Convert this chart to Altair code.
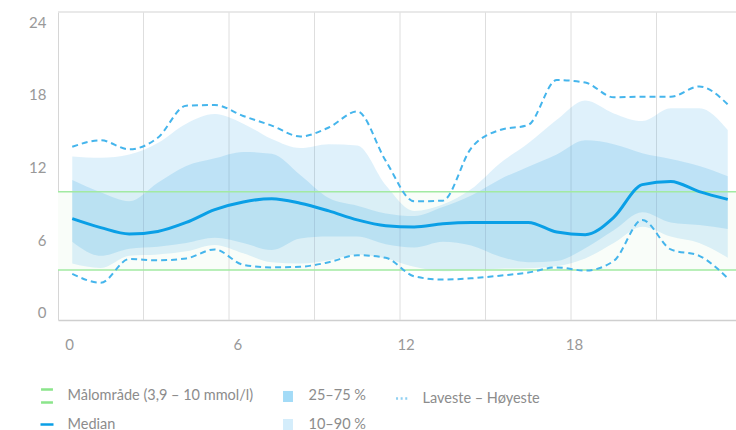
import altair as alt
import pandas as pd

# ---- data ----
hours = [0.5 + i for i in range(24)]
median = [7.9, 7.2, 6.7, 6.9, 7.6, 8.6, 9.2, 9.45, 9.1, 8.5, 7.8, 7.35,
          7.25, 7.5, 7.6, 7.6, 7.6, 6.85, 6.65, 8.0, 10.55, 10.8, 10.0, 9.4]
p25 = [6.1, 5.0, 5.55, 5.7, 6.0, 6.4, 6.0, 5.45, 6.35, 6.5, 6.5, 5.9,
       5.65, 6.1, 5.8, 4.95, 4.5, 4.6, 5.6, 7.0, 8.4, 7.6, 7.4, 7.1]
p75 = [10.9, 9.95, 9.25, 10.7, 12.0, 12.6, 13.1, 12.95, 11.3, 9.5, 8.9, 8.3,
       8.1, 8.8, 9.7, 10.95, 11.95, 12.9, 14.0, 13.7, 13.0, 12.55, 12.0, 11.2]
p10 = [4.4, 4.05, 5.0, 5.1, 5.35, 5.85, 5.2, 4.5, 4.4, 4.65, 5.1, 4.8,
       4.15, 3.8, 3.9, 4.0, 4.03, 4.2, 4.8, 6.0, 7.27, 6.5, 6.0, 4.85]
p90 = [12.75, 12.65, 12.9, 13.8, 15.3, 16.05, 15.3, 14.1, 13.4, 13.7, 13.6, 10.5,
       8.5, 9.0, 10.2, 12.2, 13.77, 15.6, 17.1, 16.1, 15.5, 16.5, 16.5, 14.8]
lowest = [3.6, 2.9, 4.75, 4.65, 4.8, 5.5, 4.3, 4.1, 4.15, 4.5, 5.05, 4.85,
          3.4, 3.15, 3.25, 3.45, 3.7, 4.1, 3.85, 4.6, 7.8, 5.5, 5.0, 3.25]
highest = [13.5, 14.0, 13.3, 14.2, 16.7, 16.75, 15.9, 15.15, 14.3, 15.0, 16.25, 12.4,
           9.25, 9.3, 13.4, 14.8, 15.2, 18.7, 18.5, 17.35, 17.4, 17.4, 18.2, 16.8]

target_range = [3.9, 10]
grid_hours = [3, 6, 9, 12, 15, 18, 21]
x_tick_labels = [0, 6, 12, 18]
y_tick_labels = [0, 6, 12, 18, 24]
legend_names = ["Målområde (3,9 – 10 mmol/l)", "25–75 %", "Laveste – Høyeste",
                "Median", "10–90 %"]

df = pd.DataFrame({"hour": hours, "median": median, "p25": p25, "p75": p75,
                   "p10": p10, "p90": p90, "lowest": lowest, "highest": highest})

# ---- scales / axes ----
W, H = 678, 308
x_max = 24 * W / 684
FONT = "Lato"
TXT = "#999999"

x_scale = alt.Scale(domain=[0, x_max], nice=False, zero=False)
y_scale = alt.Scale(domain=[0, 24], nice=False, zero=False)

# label positions are spread slightly differently from the grid in the reference
x_label_vals = [0.386 + h * 0.9842 for h in x_tick_labels]
y_label_vals = [0.56 + v * 0.943 for v in y_tick_labels]

x_axis = alt.Axis(values=x_label_vals, labelExpr="round(datum.value/6)*6",
                  grid=False, ticks=False, domainColor="#cfcfcf", domainWidth=1.5,
                  labelColor=TXT, labelFont=FONT, labelFontSize=15, labelPadding=17,
                  labelFlush=False, title=None)
y_axis = alt.Axis(values=y_label_vals, labelExpr="round(datum.value/6)*6",
                  grid=False, ticks=False, domainColor="#d6d6d6",
                  labelColor=TXT, labelFont=FONT, labelFontSize=15, labelPadding=12,
                  labelFlush=False, title=None)


def X(field):
    return alt.X(field, type="quantitative", scale=x_scale, axis=x_axis)


def Y(field):
    return alt.Y(field, type="quantitative", scale=y_scale, axis=y_axis)


tr = pd.DataFrame({"lo": [target_range[0]], "hi": [target_range[1]]})
green_fill = alt.Chart(tr).mark_rect(color="#f9fdf9").encode(
    y=Y("lo"), y2="hi")

grid = alt.Chart(pd.DataFrame({"g": grid_hours})).mark_rule(
    color="#dedede", strokeWidth=1).encode(x=X("g"))

top_border = alt.Chart(pd.DataFrame({"t": [24]})).mark_rule(
    color="#e2e2e2", strokeWidth=1.5).encode(y=Y("t"))

base = alt.Chart(df)
band_outer = base.mark_area(color="#3aa8e8", opacity=0.16, interpolate="monotone").encode(
    x=X("hour"), y=Y("p10"), y2="p90")
band_inner = base.mark_area(color="#3aa8e8", opacity=0.2, interpolate="monotone").encode(
    x=X("hour"), y=Y("p25"), y2="p75")

green_lines = alt.Chart(pd.DataFrame({"v": target_range})).mark_rule(
    color="#a2eaa2", strokeWidth=1.5).encode(y=Y("v"))

hi_line = base.mark_line(color="#45b5ec", strokeWidth=2, strokeDash=[6, 4],
                         interpolate="monotone").encode(x=X("hour"), y=Y("highest"))
lo_line = base.mark_line(color="#45b5ec", strokeWidth=2, strokeDash=[6, 4],
                         interpolate="monotone").encode(x=X("hour"), y=Y("lowest"))
med_line = base.mark_line(color="#0a9fe6", strokeWidth=3,
                          interpolate="monotone").encode(x=X("hour"), y=Y("median"))

# ---- legend ----
shapes = ["M-0.85,-0.93H0.85M-0.85,0.93H0.85",
          "M-0.71,-0.79H0.71V0.79H-0.71Z",
          "M-0.85,0H0.85",
          "M-0.93,0H0.93",
          "M-0.71,-0.79H0.71V0.79H-0.71Z"]
fills = ["transparent", "#a3dbf7", "transparent", "transparent", "#d4edfb"]
strokes = ["#8be58b", "transparent", "#8fd0f2", "#0a9fe6", "transparent"]
dashes = [[1, 0], [1, 0], [2, 2.6], [1, 0], [1, 0]]

leg = alt.Legend(title=None, orient="none", legendX=-19.5, legendY=375, columns=3,
                 direction="horizontal",
                 symbolSize=196, symbolStrokeWidth=2.5, labelFont=FONT, labelFontSize=14.5,
                 labelColor="#8c8c8c", labelOffset=12, columnPadding=24, rowPadding=5,
                 labelLimit=400)
legend_layer = alt.Chart(pd.DataFrame({"name": legend_names})).transform_filter(
    "false").mark_point(filled=True, opacity=1).encode(
    shape=alt.Shape("name:N", scale=alt.Scale(domain=legend_names, range=shapes), legend=leg),
    fill=alt.Fill("name:N", scale=alt.Scale(domain=legend_names, range=fills), legend=leg),
    stroke=alt.Stroke("name:N", scale=alt.Scale(domain=legend_names, range=strokes), legend=leg),
    strokeDash=alt.StrokeDash("name:N", scale=alt.Scale(domain=legend_names, range=dashes), legend=leg),
)

chart = alt.layer(
    green_fill, grid, top_border, band_outer, band_inner, green_lines,
    hi_line, lo_line, med_line, legend_layer
).properties(
    width=W, height=H,
    autosize=alt.AutoSizeParams(type="none"),
    padding={"left": 58, "top": 12, "right": 0, "bottom": 110},
    background="white",
).configure_view(stroke=None)

chart.save("out.html", embed_options={"renderer": "svg", "actions": False})
